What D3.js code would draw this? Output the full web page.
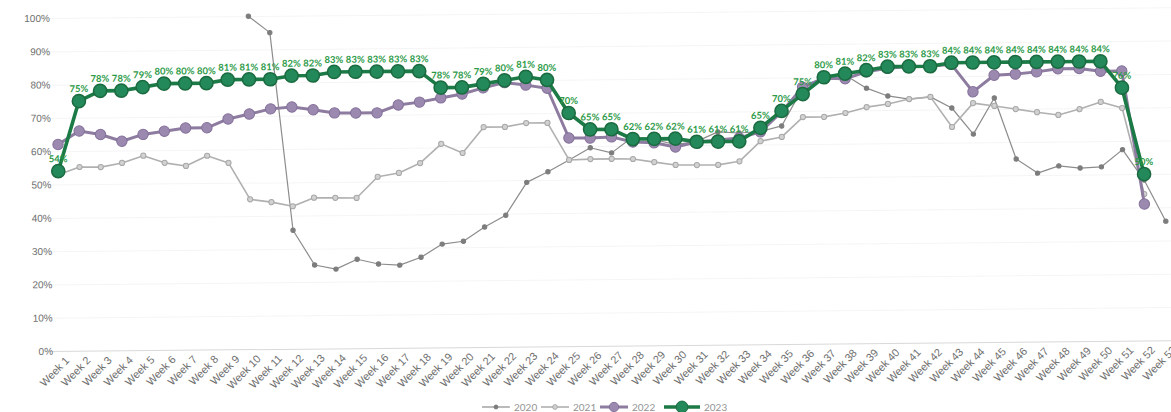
<!DOCTYPE html>
<html>
<head>
<meta charset="utf-8">
<script src="https://cdn.jsdelivr.net/npm/d3@7"></script>
<style>
    body { margin: 0; background: #fff; }
    svg { display: block; font-family: Lato, "Open Sans", sans-serif; }
    .tick-label { fill: #6e6e6e; font-size: 10px; }
    .axis.x .tick-label { font-size: 10.8px; }
    .data-label { fill: #2c9a48; font-size: 9.5px; font-weight: bold; }
    .legend-text { fill: #959595; font-size: 10px; }
</style>
</head>
<body>
<div id="chart"></div>
<script>
// Data
var weeks = d3.range(1, 54).map(function(i) { return 'Week ' + i; });
var yTicks = [0, 10, 20, 30, 40, 50, 60, 70, 80, 90, 100];

// 2020 starts at week 10
var values2020 = [null, null, null, null, null, null, null, null, null, 100,
    95, 35.6, 25.1, 23.8, 26.7, 25.2, 24.8, 27.1, 31, 31.8,
    36, 39.5, 49.3, 52.4, 55.9, 59.5, 57.9, 62.6, 61.8, 60.2,
    61.1, 63.9, 63.5, 63.9, 65.5, 76.8, 79.1, 80.6, 76.6, 74.2,
    73.2, 73.8, 70.4, 62.5, 73.3, 54.9, 50.6, 52.7, 52, 52.3,
    57.4, 48.2, 35.8];
var values2021 = [52.9, 55.2, 55.1, 56.3, 58.4, 56.2, 55.2, 58.2, 56, 45,
    44.1, 42.8, 45.3, 45.2, 45.1, 51.4, 52.5, 55.4, 61.1, 58.3,
    66, 66, 67.1, 67.1, 55.9, 56.1, 56.1, 56, 55, 54.1,
    54, 54, 55, 61, 62.2, 68.1, 68.1, 69.2, 70.9, 71.8,
    73.2, 73.8, 64.7, 71.8, 70.9, 69.9, 68.9, 68, 69.7, 71.8,
    69.9, 44, null];
var values2022 = [62, 66, 64.9, 62.8, 64.8, 65.7, 66.6, 66.6, 69.2, 70.6,
    72.1, 72.6, 71.7, 70.7, 70.6, 70.6, 72.9, 73.7, 74.9, 76,
    77.8, 79.3, 78.5, 77.5, 62.5, 62.4, 62.7, 61.1, 60.8, 59.5,
    60.9, 61.5, 62, 63.8, 69.7, 77.1, 79.7, 79.5, 81.5, 82.5,
    83, 83, 83.5, 75.2, 80.1, 80.4, 81, 81.9, 81.9, 81,
    81, 41, null];
var values2023 = [54, 75, 78, 78, 79, 80, 80, 80, 81, 81,
    81, 82, 82, 83, 83, 83, 83, 83, 78, 78,
    79, 80, 81, 80, 70, 65, 65, 62, 62, 62,
    61, 61, 61, 65, 70, 75, 80, 81, 82, 83,
    83, 83, 84, 84, 84, 84, 84, 84, 84, 84,
    76, 50, null];

var seriesNames = ['2020', '2021', '2022', '2023'];
var seriesValues = [values2020, values2021, values2022, values2023];

var width = 1171,
    height = 412;

// styles per series
var styles = {
    '2020': { stroke: '#8c8c8c', width: 1.2, r: 2.2, fill: '#7d7d7d', mstroke: '#7d7d7d' },
    '2021': { stroke: '#b0b0b0', width: 1.6, r: 2.6, fill: '#d2d2d2', mstroke: '#a8a8a8' },
    '2022': { stroke: '#8d7ba0', width: 3, r: 5.2, fill: '#9c89b0', mstroke: '#84719a' },
    '2023': { stroke: '#1b7a45', width: 3.6, r: 6.6, fill: '#24895a', mstroke: '#1a6b40' }
};

var svg = d3.select('#chart').append('svg')
    .attr('width', width)
    .attr('height', height);

// the scanned original is tilted a little, so the plot is too
var chartG = svg.append('g')
    .attr('transform', 'rotate(-0.55, 60, 351)');

var xScale = d3.scalePoint()
    .domain(weeks)
    .range([60, 1167]);

var yScale = d3.scaleLinear()
    .domain([0, 100])
    .range([351, 18]);

// gridlines
chartG.append('g')
    .attr('class', 'grid')
    .attr('transform', 'translate(49,0)')
    .call(d3.axisLeft(yScale).tickValues(yTicks).tickSize(-1140).tickFormat(''))
    .call(function(g) {
        g.select('.domain').remove();
        g.selectAll('line').attr('stroke', function(d) { return d === 0 ? '#d9d9d9' : '#f5f5f5'; });
    });

// y axis labels
var yAxis = d3.axisLeft(yScale)
    .tickValues(yTicks)
    .tickSize(0)
    .tickPadding(0)
    .tickFormat(function(d) { return d + '%'; });

chartG.append('g')
    .attr('class', 'axis y')
    .attr('transform', 'translate(53,0)')
    .call(yAxis)
    .call(function(g) {
        g.select('.domain').remove();
        g.selectAll('text').attr('class', 'tick-label').attr('font-size', null).attr('font-family', null);
    });

// x axis labels
var xAxis = d3.axisBottom(xScale).tickSize(0).tickPadding(0);
chartG.append('g')
    .attr('class', 'axis x')
    .attr('transform', 'translate(0,356)')
    .call(xAxis)
    .call(function(g) {
        g.select('.domain').remove();
        g.selectAll('text')
            .attr('class', 'tick-label')
            .attr('font-size', null)
            .attr('font-family', null)
            .attr('text-anchor', 'end')
            .attr('dy', '0.7em')
            .attr('transform', 'translate(4,0) rotate(-45)');
    });

var line = d3.line()
    .defined(function(d) { return d != null; })
    .x(function(d, i) { return xScale(weeks[i]); })
    .y(function(d) { return yScale(d); });

seriesNames.forEach(function(name, k) {
    var s = styles[name];
    var vals = seriesValues[k];
    var g = chartG.append('g').attr('class', 'series s' + name);

    g.append('path')
        .datum(vals)
        .attr('fill', 'none')
        .attr('stroke', s.stroke)
        .attr('stroke-width', s.width)
        .attr('stroke-linejoin', 'round')
        .attr('d', line);

    var pts = vals.map(function(v, i) { return { week: weeks[i], v: v }; })
        .filter(function(d) { return d.v != null; });

    g.selectAll('circle').data(pts).enter()
        .append('circle')
        .attr('cx', function(d) { return xScale(d.week); })
        .attr('cy', function(d) { return yScale(d.v); })
        .attr('r', s.r)
        .attr('fill', s.fill)
        .attr('stroke', s.mstroke)
        .attr('stroke-width', name === '2023' ? 1.5 : 1);

    if (name === '2023') {
        g.selectAll('text').data(pts).enter()
            .append('text')
            .attr('class', 'data-label')
            .attr('x', function(d) { return xScale(d.week); })
            .attr('y', function(d) { return yScale(d.v) - 9; })
            .attr('text-anchor', 'middle')
            .text(function(d) { return d.v + '%'; });
    }
});

// legend
var legendX = [482, 541, 600, 664];
var legend = svg.append('g').attr('class', 'legend');
seriesNames.forEach(function(name, k) {
    var s = styles[name];
    var lw = name === '2023' ? 36 : 28;
    var item = legend.append('g').attr('transform', 'translate(' + legendX[k] + ',407)');
    item.append('line')
        .attr('x1', 0).attr('x2', lw)
        .attr('stroke', s.stroke)
        .attr('stroke-width', s.width);
    item.append('circle')
        .attr('cx', lw / 2)
        .attr('r', s.r * 0.9)
        .attr('fill', s.fill)
        .attr('stroke', s.mstroke);
    item.append('text')
        .attr('class', 'legend-text')
        .attr('x', lw + 4)
        .attr('dy', '0.35em')
        .text(name);
});
</script>
</body>
</html>
